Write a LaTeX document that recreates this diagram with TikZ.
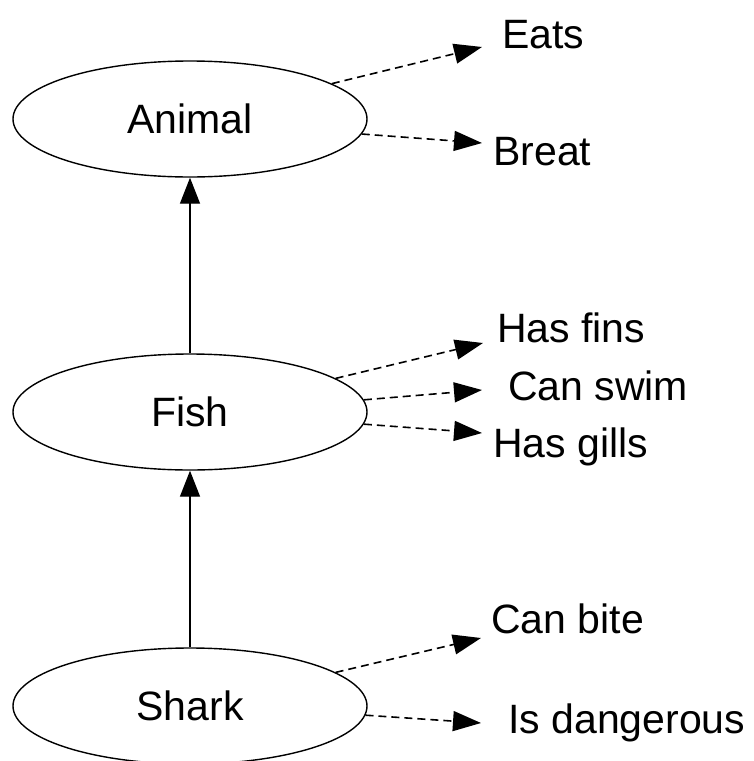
\documentclass[tikz,border=0pt]{standalone}
\usepackage{fontspec}
\setmainfont{Liberation Sans}
\usetikzlibrary{arrows.meta, shapes.geometric}

\begin{document}
\begin{tikzpicture}[x=1pt, y=-1pt,
  cls/.style={ellipse, draw, line width=1.4pt, minimum width=354pt, minimum height=116pt, font=\fontsize{41}{49}\selectfont},
  prop/.style={anchor=base west, inner sep=0pt, font=\fontsize{41}{49}\selectfont},
  isa/.style={-{Triangle[length=26pt, width=20pt]}, line width=1.4pt},
  has/.style={-{Triangle[length=28pt, width=20pt]}, line width=1.6pt, dash pattern=on 8pt off 5pt}]

\useasboundingbox (0,0) rectangle (753,761);

\node[cls] (animal) at (190,119) {Animal};
\node[cls] (fish) at (190,412) {Fish};
\node[cls] (shark) at (190,706) {Shark};

\node[prop] (eats) at (502,48) {Eats};
\node[prop] (breat) at (493,165) {Breat};
\node[prop] (fins) at (497,342) {Has fins};
\node[prop] (swim) at (508,400) {Can swim};
\node[prop] (gills) at (493,457) {Has gills};
\node[prop] (bite) at (491,633) {Can bite};
\node[prop] (danger) at (508,733) {Is dangerous};

\coordinate (eatsTip) at (482,47);
\coordinate (breatTip) at (482,143);
\coordinate (finsTip) at (483,343);
\coordinate (swimTip) at (482,390);
\coordinate (gillsTip) at (482,433);
\coordinate (biteTip) at (481,638);
\coordinate (dangerTip) at (481,723);

\draw[isa] (fish) -- (animal);
\draw[isa] (shark) -- (fish);

\draw[has] (animal.14) -- (eatsTip);
\draw[has] (animal.-5) -- (breatTip);
\draw[has] (fish.13) -- (finsTip);
\draw[has] (fish.4.6) -- (swimTip);
\draw[has] (fish.-4.3) -- (gillsTip);
\draw[has] (shark.13.4) -- (biteTip);
\draw[has] (shark.-3.6) -- (dangerTip);
\end{tikzpicture}
\end{document}
